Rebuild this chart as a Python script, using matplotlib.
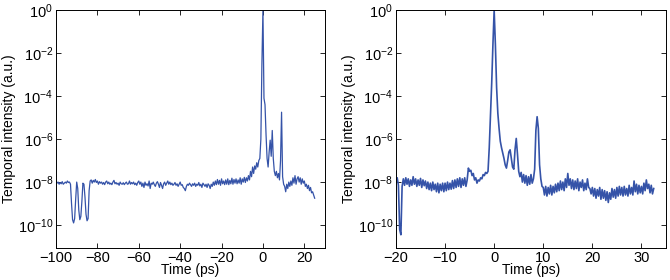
import numpy as np
import matplotlib
matplotlib.use('Agg')
import matplotlib.pyplot as plt
from matplotlib import ticker

rc_params = {
    'font.family': 'Liberation Sans',
    'mathtext.fontset': 'custom',
    'mathtext.rm': 'Liberation Sans',
    'font.size': 10.5,
    'axes.labelsize': 10,
    'xtick.direction': 'in',
    'ytick.direction': 'in',
    'xtick.top': True,
    'ytick.right': True,
    'xtick.major.size': 3.5,
    'ytick.major.size': 3.5,
    'axes.linewidth': 0.7,
}
plt.rcParams.update(rc_params)

line_color = '#3553a8'

# left panel: long time window, sampled every 0.5 ps from -100 to 25 ps
t_left_start, t_left_step = -100.0, 0.5
log_left = [
    -7.95, -8.05, -8.0, -8.1, -8.02, -8.08, -7.98, -8.1, -8.05, -8.0,
    -8.05, -7.95, -8.02, -8.0, -8.1, -9.0, -9.75, -9.9, -9.7, -8.8,
    -8.0, -8.3, -9.3, -9.75, -9.6, -8.9, -8.05, -8.1, -8.7, -9.5,
    -9.8, -9.7, -8.4, -7.95, -7.9, -8.05, -7.92, -8.0, -7.88, -8.02,
    -7.95, -8.1, -7.98, -8.05, -8.0, -8.1, -8.02, -8.12, -8.0, -7.95,
    -8.08, -8.0, -8.1, -8.05, -8.12, -8.0, -7.92, -8.08, -8.02, -8.1,
    -8.05, -8.15, -8.0, -8.08, -8.1, -8.03, -8.12, -8.05, -8.0, -8.1,
    -8.08, -7.95, -8.1, -8.02, -8.08, -8.0, -8.12, -8.05, -8.15, -8.02,
    -7.95, -8.1, -8.0, -8.2, -8.05, -8.25, -8.0, -8.15, -8.08, -8.18,
    -7.95, -8.3, -8.05, -8.1, -8.0, -8.12, -8.2, -8.05, -7.98, -8.1,
    -8.25, -8.02, -8.15, -8.3, -8.08, -8.0, -8.15, -8.05, -7.95, -8.1,
    -8.0, -8.12, -8.05, -8.15, -8.1, -8.02, -8.15, -8.08, -8.2, -8.1,
    -8.0, -8.15, -8.12, -8.25, -8.3, -8.4, -8.2, -8.1, -8.15, -8.05,
    -8.12, -8.2, -8.08, -8.15, -8.05, -8.2, -8.1, -8.15, -8.02, -8.18,
    -8.1, -8.25, -8.05, -8.12, -8.2, -8.1, -8.25, -8.08, -8.15, -8.3,
    -8.1, -8.2, -8.0, -8.15, -7.95, -8.12, -7.88, -8.1, -7.92, -8.15,
    -7.85, -8.08, -7.95, -8.12, -7.9, -8.1, -7.85, -8.12, -7.92, -8.08,
    -7.82, -8.1, -7.88, -8.05, -7.85, -8.08, -7.9, -8.05, -7.8, -8.1,
    -7.85, -8.0, -7.78, -8.02, -7.8, -7.95, -7.7, -7.9, -7.5, -7.75,
    -7.3, -7.6, -7.25, -7.4, -7.1, -7.3, -7.0, -6.9, -6.0, -2.5,
    0.0, -4.1, -4.4, -5.8, -6.9, -7.3, -6.6, -6.05, -6.8, -5.6,
    -6.9, -7.5, -7.7, -7.5, -7.8, -7.6, -7.9, -7.0, -4.75, -7.75,
    -8.1, -8.2, -8.45, -8.1, -8.3, -8.0, -8.2, -7.95, -8.15, -7.8,
    -8.05, -7.7, -8.1, -7.85, -7.75, -8.0, -7.8, -8.1, -7.85, -8.05,
    -7.95, -8.2, -8.1, -8.3, -8.15, -8.4, -8.25, -8.5, -8.45, -8.6,
    -8.75,
]

# right panel: zoom around the main pulse, sampled every 0.25 ps from -20 to 32.5 ps
t_right_start, t_right_step = -20.0, 0.25
log_right = [
    -8.0, -7.8, -8.15, -10.2, -10.45, -8.2, -7.85, -8.15,
    -7.8, -8.1, -7.85, -8.2, -7.9, -8.15, -7.75, -8.1,
    -7.85, -8.2, -7.9, -8.15, -7.83, -8.25, -7.9, -8.17,
    -7.95, -8.3, -8.0, -8.35, -8.05, -8.4, -8.0, -8.35,
    -8.1, -8.45, -8.05, -8.5, -8.1, -8.4, -8.05, -8.45,
    -8.05, -8.4, -8.0, -8.35, -8.05, -8.33, -7.93, -8.3,
    -7.9, -8.25, -7.85, -8.2, -7.8, -8.25, -7.85, -8.15,
    -7.8, -8.2, -7.9, -7.35, -7.5, -7.45, -7.7, -7.6,
    -7.9, -7.8, -8.05, -7.9, -7.95, -7.8, -7.85, -7.65,
    -7.7, -7.55, -7.6, -7.5, -6.4, -4.9, -3.4, -1.6,
    0.0, -1.6, -3.6, -4.8, -5.5, -6.1, -6.4, -6.65,
    -6.9, -7.2, -7.35, -7.0, -6.6, -6.5, -6.9, -7.3,
    -7.4, -6.5, -5.97, -6.7, -7.5, -7.75, -7.55, -8.0,
    -7.65, -8.05, -7.7, -8.15, -7.75, -8.1, -7.65, -8.05,
    -7.85, -7.4, -5.6, -4.96, -5.5, -7.2, -7.85, -8.2,
    -8.25, -8.6, -8.2, -8.65, -8.25, -8.55, -8.15, -8.6,
    -8.2, -8.5, -8.1, -8.45, -8.05, -8.4, -7.95, -8.35,
    -8.0, -8.4, -7.85, -8.25, -7.6, -8.15, -7.85, -8.3,
    -7.9, -8.35, -7.95, -8.3, -7.85, -8.4, -8.0, -8.25,
    -7.9, -8.4, -8.05, -8.35, -7.85, -8.25, -8.3, -8.55,
    -8.25, -8.65, -8.3, -8.75, -8.35, -8.65, -8.25, -8.8,
    -8.35, -8.75, -8.4, -8.85, -8.45, -8.95, -8.5, -8.8,
    -8.3, -8.7, -8.35, -8.75, -8.25, -8.65, -8.2, -8.6,
    -8.25, -8.65, -8.2, -8.6, -8.3, -8.65, -8.15, -8.55,
    -8.25, -8.6, -7.95, -8.45, -8.1, -8.55, -8.15, -8.5,
    -8.2, -8.55, -8.05, -8.4, -7.9, -8.3, -8.1, -8.5,
    -8.15, -8.55, -8.3,
]

t_left = t_left_start + t_left_step * np.arange(len(log_left))
t_right = t_right_start + t_right_step * np.arange(len(log_right))
I_left = 10.0 ** np.array(log_left)
I_right = 10.0 ** np.array(log_right)

fig = plt.figure(figsize=(6.7, 2.8), dpi=100)
ax1 = fig.add_axes([0.0836, 0.114, 0.4015, 0.85])
ax2 = fig.add_axes([0.591, 0.114, 0.403, 0.85])

panels = [
    (ax1, t_left, I_left, (-100, 30), [-100, -80, -60, -40, -20, 0, 20], 0.9),
    (ax2, t_right, I_right, (-20, 35), [-20, -10, 0, 10, 20, 30], 1.2),
]
for ax, t, I, xlim, xticks, lw in panels:
    ax.plot(t, I, color=line_color, lw=lw)
    ax.set_yscale('log')
    ax.set_ylim(10 ** -11.07, 1)
    ax.set_xlim(*xlim)
    ax.set_xticks(xticks)
    ax.set_yticks([10.0 ** k for k in range(-10, 1, 2)])
    ax.yaxis.set_minor_locator(ticker.NullLocator())
    ax.set_xlabel('Time (ps)', labelpad=-1)
    ax.set_ylabel('Temporal intensity (a.u.)', labelpad=1)
    ax.tick_params(which='major', width=0.6, pad=2)

fig.savefig('out.png', dpi=100)
